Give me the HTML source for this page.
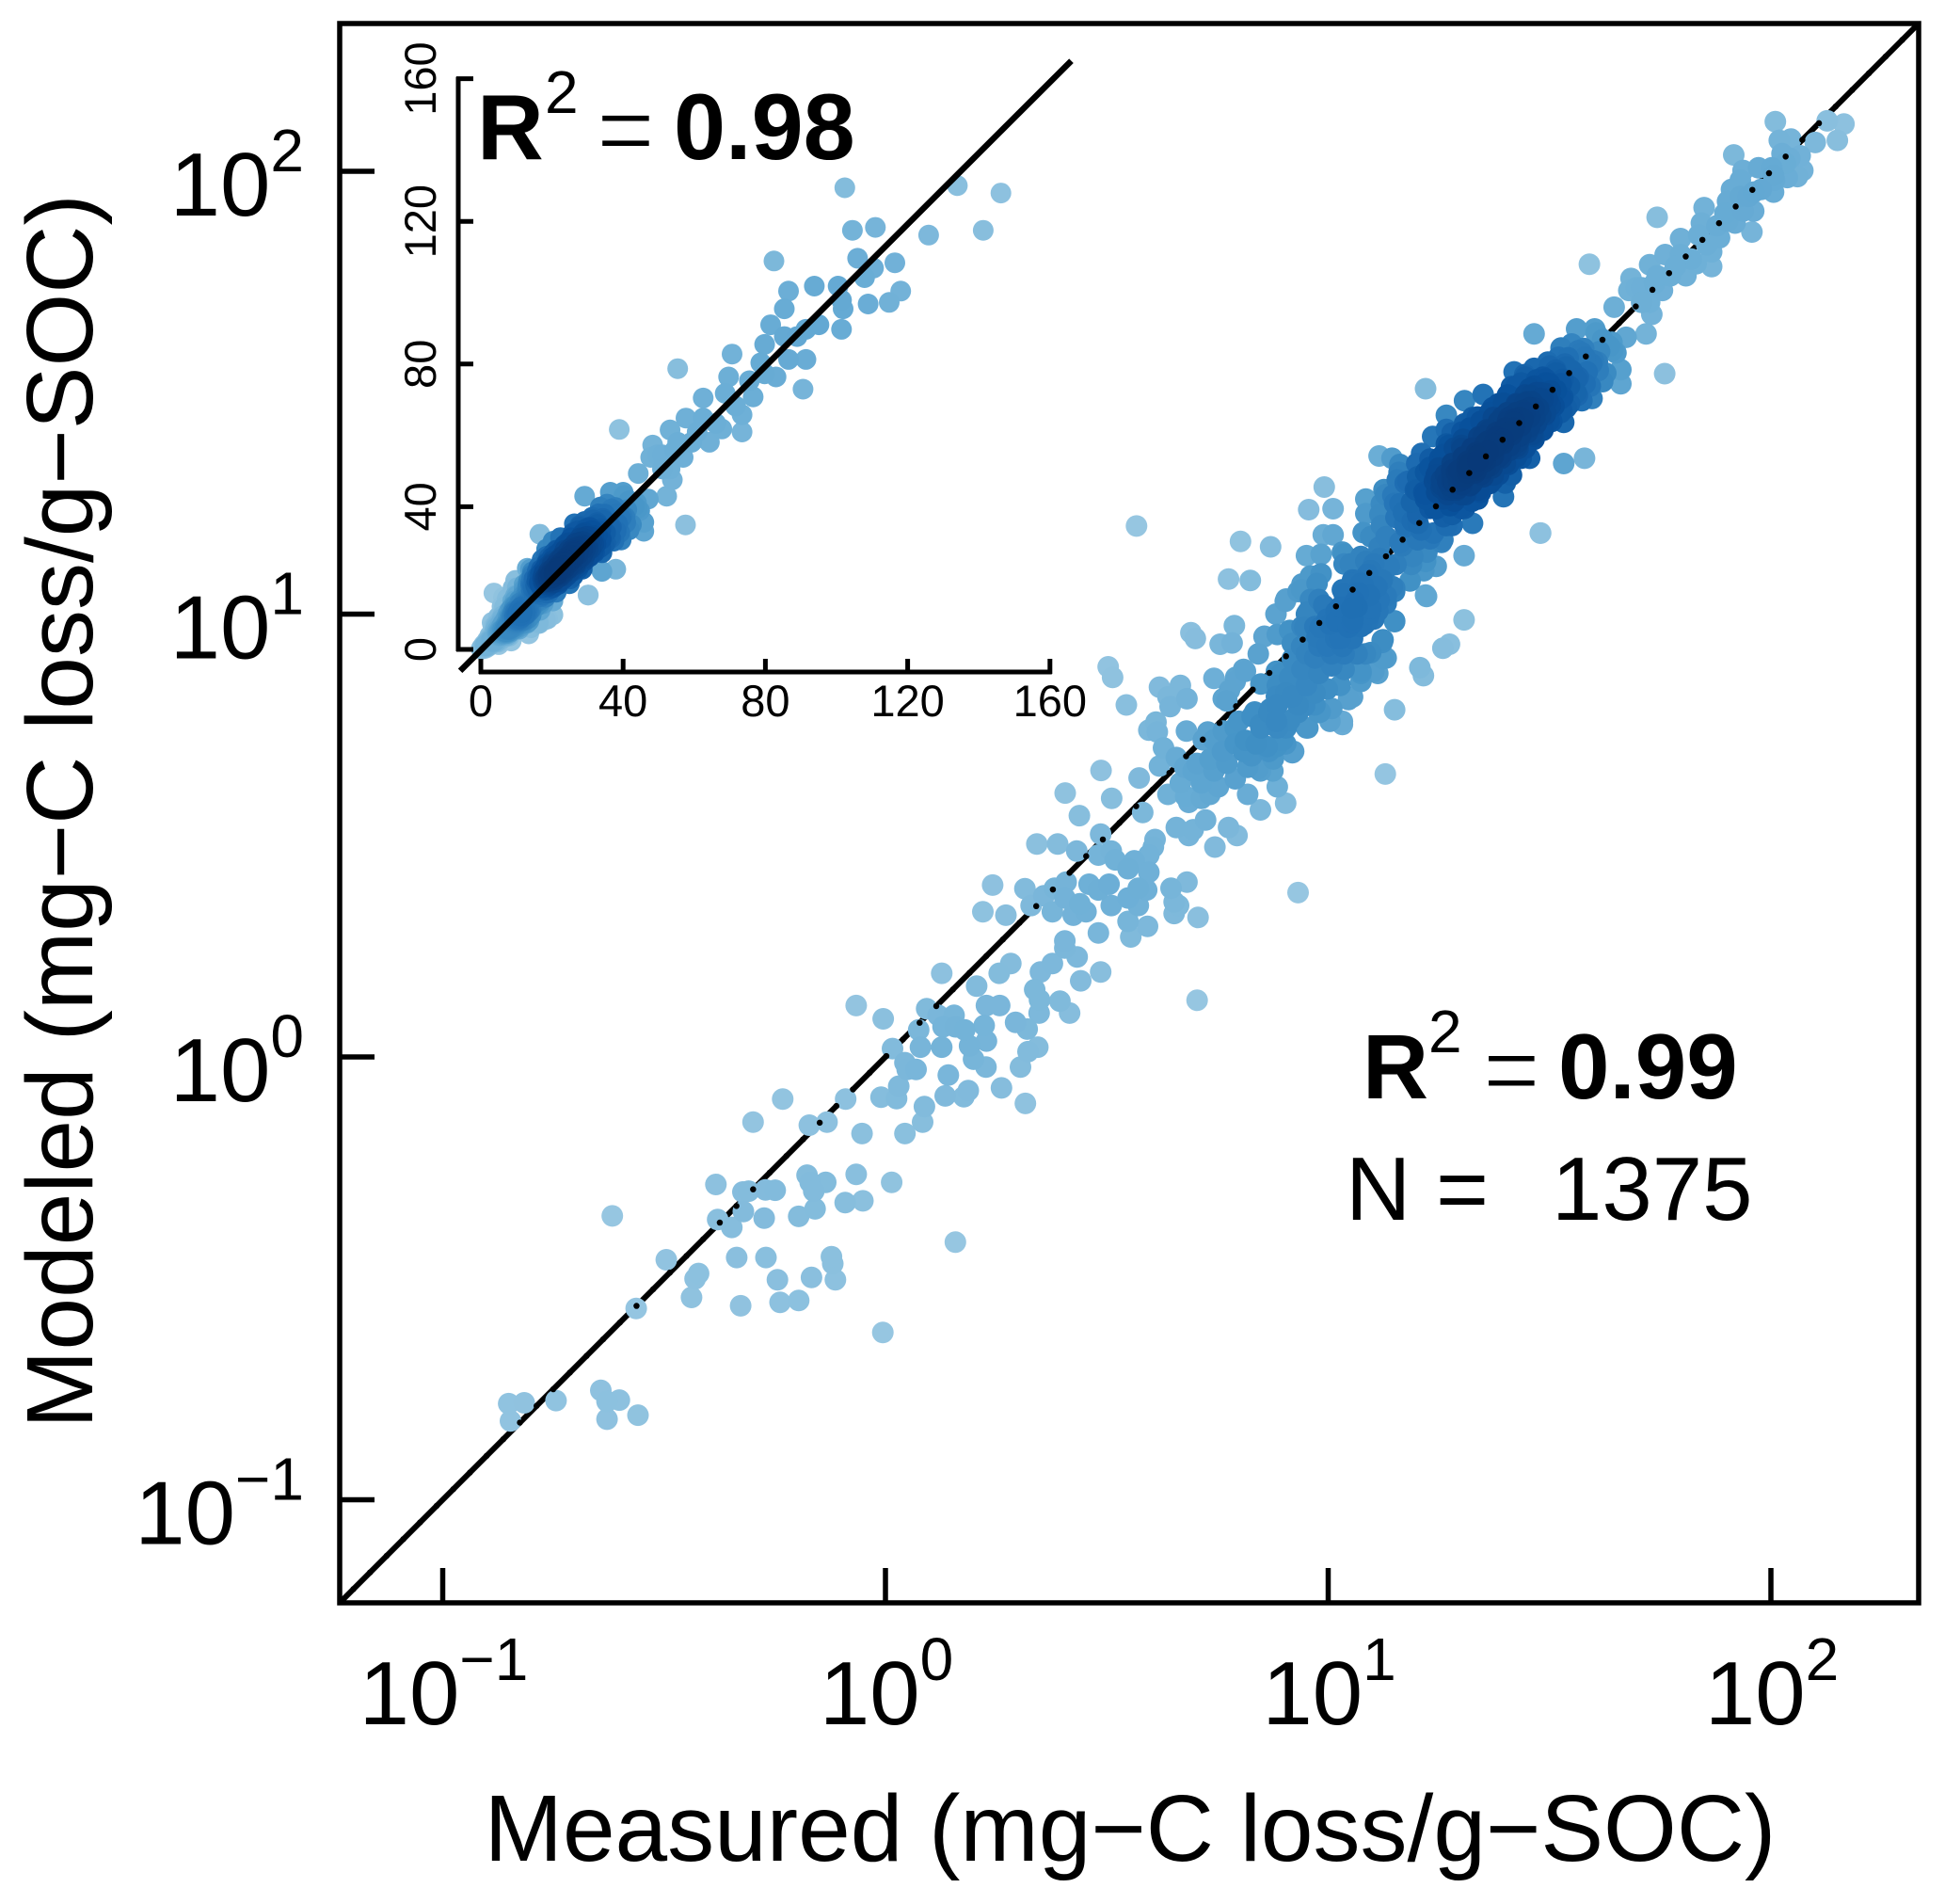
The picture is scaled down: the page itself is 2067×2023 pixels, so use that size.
<!DOCTYPE html>
<html lang="en">
<head>
<meta charset="utf-8">
<title>Measured vs modeled carbon loss</title>
<style>
html,body{margin:0;padding:0;background:#fff;}
svg{display:block;}
text{font-family:"Liberation Sans",sans-serif;fill:#000;}
</style>
</head>
<body>
<svg id="chart" xmlns="http://www.w3.org/2000/svg" width="2067" height="2023" viewBox="0 0 2067 2023">
  <rect x="0" y="0" width="2067" height="2023" fill="#fff"/>
  <g id="mainSolid"></g>
  <g id="mainPoints"></g>
  <g id="mainDots"></g>
  <g id="mainAxes"></g>
  <g id="insetPoints"></g>
  <g id="insetAxes"></g>

  <text x="1201" y="1977" font-size="100" text-anchor="middle">Measured (mg−C loss/g−SOC)</text>
  <text transform="translate(98,862) rotate(-90)" font-size="100" text-anchor="middle">Modeled (mg−C loss/g−SOC)</text>

  <g>
    <text x="1448" y="1167" font-size="97" font-weight="bold">R</text>
    <text x="1518" y="1118" font-size="64">2</text>
    <text x="1576" y="1172" font-size="104" font-family="Liberation Serif" stroke="#fff" stroke-width="2">=</text>
    <text x="1656" y="1167" font-size="98" font-weight="bold">0.99</text>
  </g>
  <g>
    <text x="1430" y="1296" font-size="96">N =</text>
    <text x="1649" y="1296" font-size="96">1375</text>
  </g>
  <g>
    <text x="507" y="169" font-size="98" font-weight="bold">R</text>
    <text x="579" y="120" font-size="64">2</text>
    <text x="634" y="174" font-size="106" font-family="Liberation Serif" stroke="#fff" stroke-width="2">=</text>
    <text x="716" y="169" font-size="99" font-weight="bold">0.98</text>
  </g>
</svg>
<script>
const mainTickExponents = [-1, 0, 1, 2];
const insetTickValues = [0, 40, 80, 120, 160];

// log10 of measured and modeled carbon loss (same order in both arrays)
const log10Measured = [
-.851,-.816,-.847,-.744,-.643,-.629,-.601,-.629,-.559,-.563,
-.495,-.617,-.438,-.430,-.422,-.383,-.379,-.347,-.321,-.274,
-.322,-.309,-.271,-.249,-.336,-.270,-.244,-.327,-.238,-.196,
-.167,-.122,-.119,-.113,-.196,-.159,-.091,-.051,-.162,-.177,
-.170,-.135,-.066,.014,-.006,.158,-.299,-.232,-.172,-.132,
-.090,-.053,.044,.084,.088,-.010,.025,.030,.044,.049,
.069,.016,.079,.075,.093,-.005,-.066,.127,.206,.257,
.283,.350,.377,.405,.433,.486,.441,.337,.348,.347,
.394,.416,.344,.322,.305,.316,.262,.187,.177,.135,
.142,.127,.227,.199,.190,.228,.223,.179,.155,.119,
.130,.158,.228,.258,.294,.320,
.567,.802,.870,.775,.824,.991,.956,1.011,.989,1.011,
.951,.984,.690,.700,.788,.756,.783,.503,.513,.544,
.619,.666,.638,.681,.643,.742,.611,.595,.614,.680,
.628,.619,.657,.487,.573,.406,.511,.581,.438,.486,
.342,.389,.432,.481,.510,.519,.609,.605,.595,.562,
.548,.595,.571,.590,.548,.571,.548,.554,.592,.645,
.681,.652,.662,.652,.706,.408,.460,.505,.358,.382,
.405,.439,.424,.453,.481,.510,.481,.315,.329,.377,
.242,.220,.272,.405,.932,.704,1.129,1.307,1.274,1.259,
1.207,1.215,1.150,1.222,1.307,1.480,.904,.847,.885,.818,
.794,.775,.744,.685,.657,.723,.695,
.638,.666,.695,.714,.733,.685,.714,.752,.742,.771,
.790,.818,.847,.875,.809,.837,.790,.761,.733,.704,
.676,.866,.904,.922,.885,.847,.828,.790,.742,.718,
.771,.728,
.885,.913,.941,.970,.998,1.027,1.055,1.084,1.122,1.131,
1.112,1.074,1.036,1.008,.979,.951,.970,.998,1.027,1.055,
1.074,.932,.970,.979,1.008,.951,1.032,.904,.885,.913,
.866,.932,.894,.922,.951,.979,1.008,1.036,1.065,
.842,.809,.790,.763,.903,.882,.941,.960,.932,.984,
.960,.979,.951,.856,.885,.913,.941,.970,.998,1.027,
1.036,1.055,1.074,1.036,1.036,1.074,1.103,1.122,1.093,1.150,
1.131,1.093,1.055,1.150,1.122,1.074,1.017,1.065,1.112,
2.010,2.127,2.165,2.150,2.100,2.019,2.045,2.025,2.066,2.072,
2.060,2.033,1.916,1.937,1.972,2.002,2.008,1.931,1.911,1.978,
1.949,2.006,1.902,1.849,1.896,1.961,1.957,1.919,1.843,1.884,
1.796,1.837,1.866,1.866,1.831,1.761,1.796,1.726,1.808,1.773,
1.743,1.684,1.679,1.708,1.755,1.726,1.731,1.646,1.743,1.590,
1.718,1.760,1.465,1.220,1.579,1.532,1.479,
1.561,1.602,1.673,1.643,1.661,1.661,1.620,1.596,1.573,1.608,
1.573,1.526,1.496,1.538,1.491,1.526,1.561,1.585,1.420,1.444,
1.414,1.455,1.491,1.538,1.532,1.485,1.491,1.444,1.396,1.350,
1.308,1.267,1.326,1.373,1.420,1.455,1.432,1.455,1.414,1.396,
1.373,1.396,1.350,1.302,1.267,1.236,1.267,1.302,1.338,1.373,
1.326,1.302,1.338,1.279,1.256,1.244,1.279,1.314,1.211,1.115,
1.144,1.162,1.156,1.126,1.085,1.085,1.120,1.079,1.120,1.162,
1.197,1.173,1.220,1.244,1.267,1.302,1.256,1.203,1.162,1.115,
1.032,1.050,1.085,1.138,1.191,1.220,1.244,1.185,1.220,1.150,
1.150,1.115,1.079,1.056,1.103,
1.285,1.314,1.338,1.361,1.385,1.408,1.432,1.455,1.479,1.502,
1.256,1.302,1.332,1.373,1.408,1.444,1.467,1.526,1.320,1.355,
1.391,1.426,1.461,1.502,
1.23,1.21,1.19,1.17,1.15,1.13,
1.28,1.26,1.24,1.22,1.20,1.18,1.16,
1.30,1.285,1.27,1.255,1.24,1.22,1.20,
1.325,1.31,1.295,1.28,1.265,1.25,1.23,
1.34,1.325,1.31,1.295,1.28,1.26,
1.365,1.35,1.335,1.32,1.305,1.285,
1.385,1.37,1.355,1.34,1.325,1.305,
1.40,1.385,1.37,1.355,1.34,1.32,
1.425,1.41,1.395,1.38,1.365,1.345,
1.445,1.43,1.415,1.40,1.385,1.365,
1.465,1.45,1.435,1.42,1.405,1.385,
1.485,1.47,1.455,1.44,1.425,1.405,
1.505,1.49,1.475,1.46,1.445,1.425,
1.525,1.51,1.495,1.48,1.465,1.445,
1.545,1.53,1.515,1.50,1.485,1.465,
1.56,1.545,1.53,1.515,1.50,
1.58,1.565,1.55,1.535,1.52,
1.61,1.595,1.58,1.565,1.55,
1.65,1.635,1.62,1.605,
1.275,1.26,1.245,1.30,1.285,1.27,1.32,1.305,1.29,1.345,
1.33,1.315,1.365,1.35,1.335,1.39,1.375,1.36,1.41,1.395,
1.38,1.435,1.42,1.405,1.455,1.44,1.425,1.48,1.465,1.45,
1.50,1.485,1.47,
1.27,1.28,1.29,1.275,1.285,1.295,1.26,1.28,
1.117,1.146,1.174,1.202,1.230,1.153,1.188,1.216,1.174,1.202,
1.230,1.096,1.131,1.167,1.202,1.238,1.223,1.259,1.117,1.153,
1.188,1.216,1.096,1.061,1.032,1.068,1.110,1.145,1.018,1.053,
1.096,1.131,1.082,1.046,1.004,
1.280,1.308,1.337,1.372,1.407,1.436,1.471,1.273,1.252,1.301,
1.358,1.393,1.429,1.457,1.492,1.514,1.542,1.577,1.599,1.613,
1.641,1.627,1.592,1.563,1.528,1.499,1.464,1.429,1.407,1.372,
1.344,1.308,1.280,1.400,1.436,
.813,.848,.883,.869,.834,.798,.763,.827,.862,.897,
.678,.841,.876,.919,.777,.791,.813,.848,
.883,.919,.940,.975,.947,.919,.855,.905,.940,.975,
.990,.954,1.053,1.089,1.131,1.089,1.060,1.018,.982,1.032,
1.096,1.124,1.124,1.103,1.074,.947,.982,1.032,1.004,1.046,
.954,.905,.883,.919,.883,
1.855,1.820,1.784,1.737,1.902,1.937,1.961,2.043,1.931,1.878,
1.708,1.696,2.006,2.037
];
const log10Modeled = [
-.783,-.781,-.822,-.776,-.753,-.778,-.775,-.818,-.809,-.568,
-.458,-.359,-.543,-.501,-.489,-.288,-.367,-.385,-.349,-.364,
-.305,-.303,-.300,-.301,-.453,-.453,-.503,-.562,-.554,-.550,
-.498,-.451,-.467,-.503,-.360,-.343,-.329,-.325,-.303,-.267,
-.283,-.283,-.265,-.283,-.622,-.418,-.147,-.095,-.154,-.147,
-.095,-.173,-.173,-.147,-.112,-.091,-.094,-.066,-.013,-.028,
-.028,.019,.022,.061,.109,.086,.116,.189,.160,.189,
.211,.192,.211,.246,.226,.192,.172,.152,.129,.099,
.126,.099,.022,.012,-.023,-.105,-.070,-.076,-.090,-.088,
-.041,.022,-.023,-.005,.025,.036,.071,.061,.094,.094,
.068,.068,.116,.116,.078,.063,
1.199,1.164,1.152,1.079,1.076,1.287,1.236,1.238,1.179,1.179,
1.132,1.135,.958,.945,.974,.932,.935,.881,.857,.795,
.835,.839,.813,.809,.791,.855,.756,.738,.734,.736,
.698,.657,.676,.647,.630,.596,.584,.552,.545,.503,
.481,.481,.465,.456,.465,.445,.491,.474,.456,.443,
.425,.417,.381,.377,.359,.342,.306,.271,.295,.381,
.395,.350,.342,.324,.315,.395,.390,.390,.364,.381,
.359,.346,.320,.328,.280,.342,.377,.380,.342,.328,
.388,.328,.320,.262,.371,.128,.639,.987,.932,.923,
.879,.861,.784,1.040,1.132,1.183,.573,.558,.610,.593,
.500,.518,.474,.500,.518,.535,.513,
.593,.619,.646,.619,.593,.575,.584,.610,.646,.663,
.628,.654,.646,.646,.690,.707,.707,.690,.672,.663,
.654,.690,.707,.690,.743,.751,.769,.743,.716,.716,
.804,.734,
.839,.857,.875,.901,.928,.945,.945,.910,.936,.901,
.866,.866,.875,.883,.866,.839,.822,.831,.839,.813,
.848,.795,.795,.778,.787,.743,.751,.822,.795,.760,
.778,.778,.866,.892,.910,.928,.910,.910,.910,
.910,.875,.848,.809,1.029,1.000,1.068,1.086,1.051,1.091,
1.033,1.033,1.000,.950,.954,.963,.972,.972,.989,1.016,
1.046,1.077,1.069,1.135,1.113,1.130,1.113,1.077,1.042,1.051,
1.024,1.000,.980,.985,.941,.972,.945,1.016,1.007,
2.112,2.114,2.107,2.070,2.065,2.070,2.073,2.040,2.035,2.002,
1.988,2.018,2.037,2.002,2.008,2.008,1.980,1.980,1.959,1.959,
1.943,1.953,1.932,1.918,1.905,1.910,1.863,1.883,1.883,1.850,
1.848,1.856,1.818,1.785,1.791,1.812,1.812,1.789,1.764,1.764,
1.764,1.758,1.731,1.737,1.731,1.704,1.677,1.693,1.896,1.790,
1.633,1.543,1.633,1.509,1.352,1.340,1.183,
1.644,1.644,1.625,1.596,1.552,1.520,1.525,1.487,1.482,1.569,
1.590,1.601,1.569,1.558,1.531,1.520,1.531,1.547,1.547,1.541,
1.514,1.509,1.498,1.466,1.433,1.422,1.455,1.476,1.476,1.496,
1.482,1.449,1.444,1.444,1.433,1.422,1.401,1.352,1.314,1.265,
1.357,1.390,1.401,1.411,1.417,1.401,1.384,1.374,1.357,1.314,
1.205,1.292,1.260,1.281,1.292,1.314,1.325,1.330,1.363,1.357,
1.352,1.338,1.303,1.281,1.260,1.227,1.249,1.184,1.200,1.249,
1.281,1.205,1.271,1.238,1.200,1.238,1.162,1.205,1.162,1.151,
1.140,1.113,1.119,1.108,1.130,1.119,1.108,1.075,1.043,1.059,
.983,1.032,1.065,.989,.989,
1.298,1.319,1.346,1.368,1.390,1.411,1.444,1.466,1.487,1.504,
1.303,1.303,1.319,1.384,1.444,1.455,1.444,1.487,1.292,1.330,
1.352,1.379,1.406,1.471,
1.17,1.19,1.21,1.23,1.25,1.27,
1.20,1.22,1.24,1.26,1.28,1.30,1.32,
1.24,1.255,1.27,1.285,1.30,1.32,1.34,
1.255,1.27,1.285,1.30,1.315,1.33,1.35,
1.28,1.295,1.31,1.325,1.34,1.36,
1.295,1.31,1.325,1.34,1.355,1.375,
1.315,1.33,1.345,1.36,1.375,1.395,
1.34,1.355,1.37,1.385,1.40,1.42,
1.355,1.37,1.385,1.40,1.415,1.435,
1.375,1.39,1.405,1.42,1.435,1.455,
1.395,1.41,1.425,1.44,1.455,1.475,
1.415,1.43,1.445,1.46,1.475,1.495,
1.435,1.45,1.465,1.48,1.495,1.515,
1.455,1.47,1.485,1.50,1.515,1.535,
1.475,1.49,1.505,1.52,1.535,1.555,
1.50,1.515,1.53,1.545,1.56,
1.52,1.535,1.55,1.565,1.58,
1.55,1.565,1.58,1.595,1.61,
1.59,1.605,1.62,1.635,
1.245,1.26,1.275,1.27,1.285,1.30,1.29,1.305,1.32,1.315,
1.33,1.345,1.335,1.35,1.365,1.36,1.375,1.39,1.38,1.395,
1.41,1.405,1.42,1.435,1.425,1.44,1.455,1.45,1.465,1.48,
1.47,1.485,1.50,
1.28,1.28,1.28,1.29,1.30,1.30,1.29,1.31,
1.225,1.268,1.296,1.310,1.331,1.218,1.253,1.275,1.197,1.225,
1.239,1.175,1.175,1.154,1.168,1.183,1.140,1.168,1.126,1.112,
1.112,1.098,1.098,1.076,1.055,1.048,1.062,1.062,1.006,1.013,
1.013,1.027,.977,.970,.977,
1.409,1.430,1.445,1.466,1.494,1.522,1.529,1.381,1.352,1.381,
1.416,1.445,1.473,1.494,1.522,1.551,1.579,1.600,1.572,1.593,
1.614,1.544,1.515,1.494,1.459,1.437,1.402,1.374,1.338,1.303,
1.275,1.239,1.225,1.296,1.352,
.715,.743,.758,.786,.779,.758,.736,.680,.701,.715,
.588,.651,.673,.687,.828,.857,.871,.842,
.871,.899,.927,.949,.970,.934,.949,1.034,1.055,1.069,
1.020,1.005,1.069,1.090,1.041,.984,1.027,.984,.970,.927,
.913,.942,.899,.871,.871,.793,.779,.758,.758,.807,
.743,.743,.701,.814,.814,
1.834,1.802,1.785,1.747,1.888,1.910,1.953,2.029,1.943,1.877,
1.704,1.737,1.991,1.986
];

const SVG_NS = 'http://www.w3.org/2000/svg';
const mainBox = { left: 361, right: 2039, top: 25, bottom: 1703 };
const decadePx = 470.5;
const mainXAxis = function (logValue) { return 941 + decadePx * logValue; };
const mainYAxis = function (logValue) { return 1123 - decadePx * logValue; };
const insetXAxis = function (value) { return 511 + 3.78 * value; };
const insetYAxis = function (value) { return 690 - 3.79 * value; };

const rampStops = ['#96C6E1', '#6BAED6', '#4292C6', '#2171B5', '#08519C', '#08306B'];
const densityBreaks = [1, 5, 12, 22, 38, 62, 95];
const rampBreaks = [0, .05, .15, .30, .55, .78, 1];

function hexToRgb(hex) {
  return [parseInt(hex.slice(1, 3), 16), parseInt(hex.slice(3, 5), 16), parseInt(hex.slice(5, 7), 16)];
}
function rampColor(t) {
  const pos = Math.max(0, Math.min(1, t)) * (rampStops.length - 1);
  const i = Math.min(rampStops.length - 2, Math.floor(pos));
  const a = hexToRgb(rampStops[i]);
  const b = hexToRgb(rampStops[i + 1]);
  const f = pos - i;
  return 'rgb(' + [0, 1, 2].map(function (k) { return Math.round(a[k] + (b[k] - a[k]) * f); }).join(',') + ')';
}
function densityToRamp(d) {
  for (let k = 1; k < densityBreaks.length; k++) {
    if (d <= densityBreaks[k]) {
      const f = (d - densityBreaks[k - 1]) / (densityBreaks[k] - densityBreaks[k - 1]);
      return rampBreaks[k - 1] + f * (rampBreaks[k] - rampBreaks[k - 1]);
    }
  }
  return 1;
}

const pointCount = Math.min(log10Measured.length, log10Modeled.length);
const density = [];
for (let i = 0; i < pointCount; i++) {
  let sum = 0;
  for (let j = 0; j < pointCount; j++) {
    const dx = log10Measured[i] - log10Measured[j];
    const dy = log10Modeled[i] - log10Modeled[j];
    sum += Math.exp(-(dx * dx + dy * dy) / (2 * 0.07 * 0.07));
  }
  density.push(sum);
}
const drawOrder = density.map(function (d, i) { return i; }).sort(function (a, b) { return density[a] - density[b]; });
function pointColor(i) {
  return rampColor(densityToRamp(density[i]));
}

function makeLine(parent, x1, y1, x2, y2, width) {
  const el = document.createElementNS(SVG_NS, 'line');
  el.setAttribute('x1', x1);
  el.setAttribute('y1', y1);
  el.setAttribute('x2', x2);
  el.setAttribute('y2', y2);
  el.setAttribute('stroke', '#000');
  el.setAttribute('stroke-width', width);
  parent.appendChild(el);
  return el;
}

const mainSolid = document.getElementById('mainSolid');
const mainDots = document.getElementById('mainDots');
const mainPoints = document.getElementById('mainPoints');
const mainAxes = document.getElementById('mainAxes');
const insetPoints = document.getElementById('insetPoints');
const insetAxes = document.getElementById('insetAxes');

const solidLine = makeLine(mainSolid, mainBox.left, mainBox.bottom, mainBox.right, mainBox.top, 6);



const dottedLine = makeLine(mainDots, mainBox.left, mainBox.bottom, mainBox.right, mainBox.top, 6.5);
dottedLine.setAttribute('stroke-dasharray', '0 25.03');
dottedLine.setAttribute('stroke-dashoffset', '-20.6');
dottedLine.setAttribute('stroke-linecap', 'round');



drawOrder.forEach(function (i) {
  const main = document.createElementNS(SVG_NS, 'circle');
  main.setAttribute('cx', mainXAxis(log10Measured[i]).toFixed(1));
  main.setAttribute('cy', mainYAxis(log10Modeled[i]).toFixed(1));
  main.setAttribute('r', 11.5);
  main.setAttribute('fill', pointColor(i));
  
  
  mainPoints.appendChild(main);

  const inset = document.createElementNS(SVG_NS, 'circle');
  inset.setAttribute('cx', insetXAxis(Math.pow(10, log10Measured[i])).toFixed(1));
  inset.setAttribute('cy', insetYAxis(Math.pow(10, log10Modeled[i])).toFixed(1));
  inset.setAttribute('r', 11);
  inset.setAttribute('fill', pointColor(i));
  
  
  insetPoints.appendChild(inset);
});

const frame = document.createElementNS(SVG_NS, 'rect');
frame.setAttribute('x', mainBox.left);
frame.setAttribute('y', mainBox.top);
frame.setAttribute('width', mainBox.right - mainBox.left);
frame.setAttribute('height', mainBox.bottom - mainBox.top);
frame.setAttribute('fill', 'none');
frame.setAttribute('stroke', '#000');
frame.setAttribute('stroke-width', 5.5);


mainAxes.appendChild(frame);

function makePowerLabel(exponent, x, y, anchor, labelName) {
  const label = document.createElementNS(SVG_NS, 'text');
  label.setAttribute('x', x);
  label.setAttribute('y', y);
  label.setAttribute('font-size', 96);
  label.setAttribute('text-anchor', anchor);
  label.appendChild(document.createTextNode('10'));
  const sup = document.createElementNS(SVG_NS, 'tspan');
  sup.setAttribute('dy', -47);
  sup.setAttribute('font-size', 64);
  sup.textContent = exponent < 0 ? '−' + Math.abs(exponent) : String(exponent);
  label.appendChild(sup);
  
  
  mainAxes.appendChild(label);
}

mainTickExponents.forEach(function (exponent) {
  const tx = mainXAxis(exponent);
  const xTick = makeLine(mainAxes, tx, mainBox.bottom, tx, mainBox.bottom - 37, 5.5);
  
  
  makePowerLabel(exponent, tx + 1, 1832, 'middle', 'x-axis-tick-label');

  const ty = mainYAxis(exponent);
  const yTick = makeLine(mainAxes, mainBox.left, ty, mainBox.left + 37, ty, 5.5);
  
  
  makePowerLabel(exponent, 323, ty + 47, 'end', 'y-axis-tick-label');
});

const insetLine = makeLine(insetAxes, insetXAxis(-5.8), insetYAxis(-6), insetXAxis(166), insetYAxis(165), 6.5);



const insetXLine = makeLine(insetAxes, insetXAxis(0) - 2, 714, insetXAxis(160) + 2, 714, 5);


const insetYLine = makeLine(insetAxes, 487, insetYAxis(0) + 2, 487, insetYAxis(160) - 2, 5);



insetTickValues.forEach(function (value) {
  const tx = insetXAxis(value);
  const xTick = makeLine(insetAxes, tx, 716, tx, 700, 5);
  
  
  const xLabel = document.createElementNS(SVG_NS, 'text');
  xLabel.setAttribute('x', tx);
  xLabel.setAttribute('y', 761);
  xLabel.setAttribute('font-size', 47);
  xLabel.setAttribute('text-anchor', 'middle');
  xLabel.textContent = String(value);
  
  
  insetAxes.appendChild(xLabel);

  const ty = insetYAxis(value);
  const yTick = makeLine(insetAxes, 485, ty, 503, ty, 5);
  
  
  const yLabel = document.createElementNS(SVG_NS, 'text');
  yLabel.setAttribute('transform', 'translate(463,' + ty + ') rotate(-90)');
  yLabel.setAttribute('font-size', 47);
  yLabel.setAttribute('text-anchor', 'middle');
  yLabel.textContent = String(value);
  
  
  insetAxes.appendChild(yLabel);
});
</script>
</body>
</html>
